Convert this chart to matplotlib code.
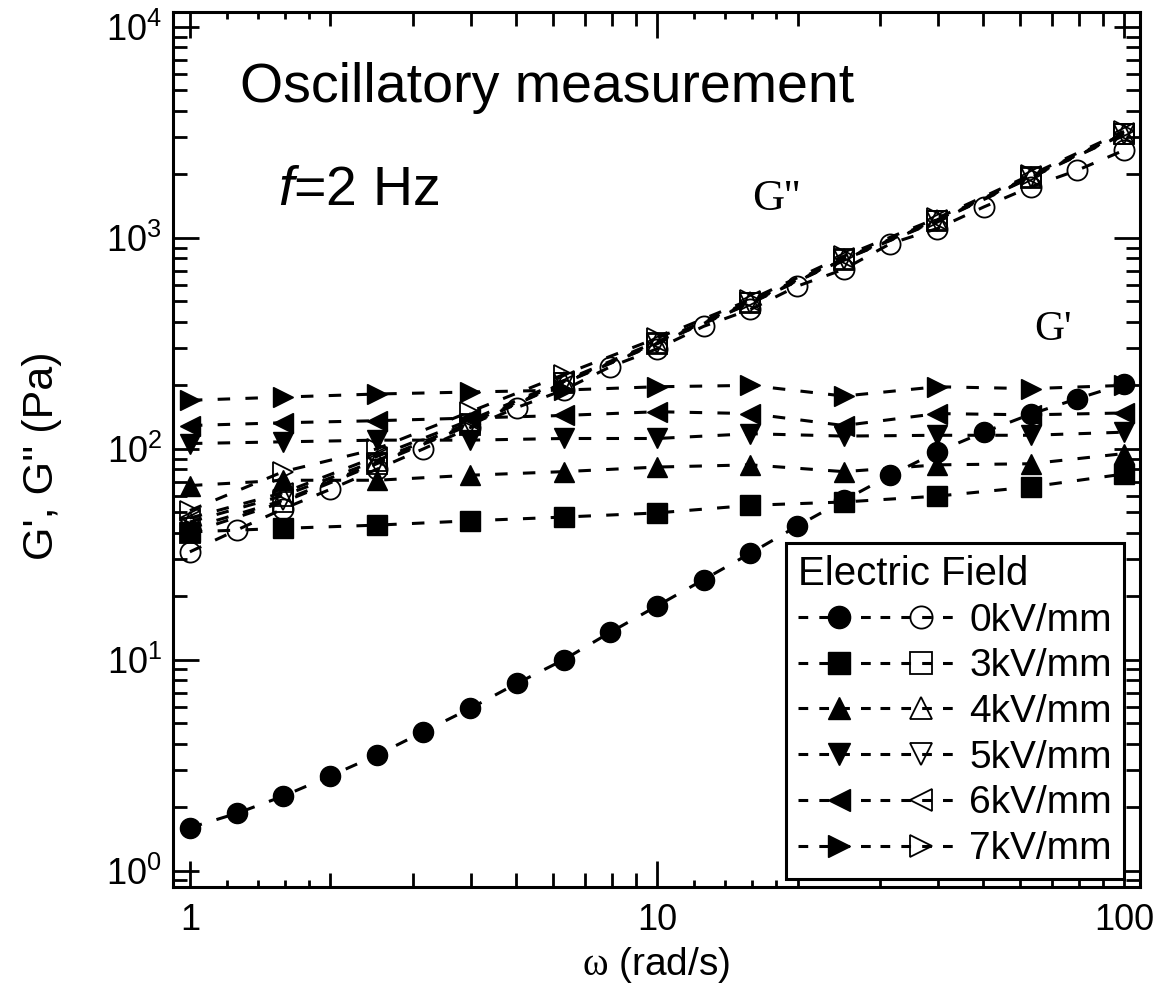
import matplotlib
matplotlib.use('Agg')
import matplotlib.pyplot as plt
from matplotlib.lines import Line2D
from matplotlib.legend_handler import HandlerTuple
from matplotlib.ticker import FixedLocator, NullLocator, NullFormatter

plt.rcParams['font.family'] = ['Liberation Sans Narrow', 'Liberation Sans', 'DejaVu Sans']
plt.rcParams['mathtext.fontset'] = 'custom'
plt.rcParams['mathtext.rm'] = 'Liberation Serif'
plt.rcParams['mathtext.it'] = 'Liberation Sans:italic'
plt.rcParams['lines.scale_dashes'] = False

# omega (rad/s)
w0 = [1, 1.259, 1.585, 1.995, 2.512, 3.162, 3.981, 5.012, 6.31, 7.943, 10,
      12.59, 15.85, 19.95, 25.12, 31.62, 39.81, 50.12, 63.1, 79.43, 100]
w = [1, 1.585, 2.512, 3.981, 6.31, 10, 15.85, 25.12, 39.81, 63.1, 100]

# 0 kV/mm
gp_0 = [1.60, 1.87, 2.26, 2.81, 3.53, 4.56, 5.88, 7.73, 10.0, 13.5, 18.0,
        24.0, 32.0, 43.0, 57.0, 75.0, 96.8, 120, 146, 173, 203]
gpp_0 = [32.5, 41.2, 52, 64.2, 80, 100, 126, 157, 190, 245, 298,
         381, 458, 590, 710, 940, 1108, 1403, 1745, 2093, 2604]

# G' with field
gp_3 = [40.4, 42, 43.5, 45.6, 47.5, 49.7, 54, 56, 59.7, 66, 76]
gp_4 = [67, 71, 71, 75, 78, 82, 84, 78, 84, 85, 95]
gp_5 = [106, 108, 110, 110, 112, 112, 118, 115, 116, 116, 120]
gp_6 = [129, 133, 136, 140, 144, 150, 147, 129, 147, 145, 148]
gp_7 = [170, 176, 182, 186, 190, 197, 200, 178, 197, 193, 200]

# G'' with field
gpp_3 = [40, 56, 85, 130, 205, 315, 490, 790, 1200, 1930, 3100]
gpp_4 = [45, 60, 88, 133, 208, 318, 495, 795, 1210, 1950, 3120]
gpp_5 = [42, 57, 86, 131, 206, 316, 492, 792, 1205, 1940, 3110]
gpp_6 = [47, 62, 92, 137, 210, 322, 500, 800, 1220, 1960, 3140]
gpp_7 = [51, 78, 100, 150, 225, 335, 510, 820, 1240, 1990, 3200]

labels = ['0kV/mm', '3kV/mm', '4kV/mm', '5kV/mm', '6kV/mm', '7kV/mm']
markers = ['o', 's', '^', 'v', '<', '>']

series = [(w0, gp_0, gpp_0), (w, gp_3, gpp_3), (w, gp_4, gpp_4),
          (w, gp_5, gpp_5), (w, gp_6, gpp_6), (w, gp_7, gpp_7)]

fig = plt.figure(figsize=(11.64, 9.91), dpi=100)
ax = fig.add_axes([0.1486, 0.1052, 0.8308, 0.883])

dash = (9, 11)
lw = 2.2
ms = 15
handles = []
for (xs, gp, gpp), m in zip(series, markers):
    size = ms - 0.5 if m == 'o' else ms
    ax.plot(xs, gp, color='k', lw=lw, dashes=dash, marker=m, ms=size,
            mfc='k', mec='k')
    ax.plot(xs, gpp, color='k', lw=lw, dashes=dash, marker=m, ms=size,
            mfc='none', mec='k', mew=1.3)
    hf = Line2D([], [], color='k', lw=lw, dashes=(7, 8), marker=m, ms=16,
                mfc='k', mec='k')
    ho = Line2D([], [], color='k', lw=lw, dashes=(7, 8), marker=m, ms=16,
                mfc='none', mec='k', mew=1.3)
    handles.append((hf, ho))

ax.set_xscale('log')
ax.set_yscale('log')
ax.set_xlim(0.92, 108.2)
ax.set_ylim(0.84, 11815)

ax.set_xticks([1, 10, 100], labels=['1', '10', '100'])
ax.xaxis.set_minor_locator(FixedLocator([2, 3, 4, 5, 6, 7, 8, 9,
                                         20, 30, 40, 50, 60, 70, 80, 90]))
ax.xaxis.set_minor_formatter(NullFormatter())

for s in ax.spines.values():
    s.set_linewidth(2.2)

ax.tick_params(which='major', direction='in', length=19, width=2,
               top=True, right=True, labelsize=26)
ax.tick_params(which='minor', direction='in', length=10, width=2,
               top=True, right=True)
ax.tick_params(axis='x', which='major', pad=12)
ax.tick_params(axis='y', which='major', pad=8)

# short ticks at 1.2 .. 1.8
for side in ('bottom', 'top'):
    sec = ax.secondary_xaxis(side)
    sec.set_xticks([1.2, 1.4, 1.6, 1.8, 12, 14, 16, 18])
    sec.xaxis.set_minor_locator(NullLocator())
    sec.tick_params(direction='in', length=5, width=2,
                    labelbottom=False, labeltop=False)
    sec.spines[side].set_visible(False)

ax.set_xlabel(r'$\mathrm{\omega}$ (rad/s)', fontsize=28,
              family=['Liberation Sans'])
ax.xaxis.set_label_coords(0.5, -0.066)
ax.set_ylabel("G', G'' (Pa)", fontsize=31, family=['Liberation Sans'])
ax.yaxis.set_label_coords(-0.115, 0.493)

ax.text(0.069, 0.897, 'Oscillatory measurement', transform=ax.transAxes,
        fontsize=40, family=['Liberation Sans'], va='baseline')
ax.text(0.1086, 0.779, r'$f$=2 Hz', transform=ax.transAxes,
        fontsize=40, family=['Liberation Sans'], va='baseline')
ax.text(0.599, 0.773, "G''", transform=ax.transAxes,
        fontsize=32, family=['Liberation Serif'], va='baseline')
ax.text(0.891, 0.625, "G'", transform=ax.transAxes,
        fontsize=30, family=['Liberation Serif'], va='baseline')

leg = ax.legend(handles, labels,
                handler_map={tuple: HandlerTuple(ndivide=None, pad=0.0)},
                loc='lower right', bbox_to_anchor=(0.983, 0.009),
                title='Electric Field', alignment='left',
                frameon=True, fancybox=False, edgecolor='k', framealpha=1,
                handlelength=4.2, handletextpad=0.2, labelspacing=0.25,
                borderpad=0.3, borderaxespad=0.0,
                prop={'size': 28}, title_fontproperties={'size': 29,
                                                         'family': 'Liberation Sans'})
leg.get_frame().set_linewidth(2.2)

fig.savefig('out.png', dpi=100)
